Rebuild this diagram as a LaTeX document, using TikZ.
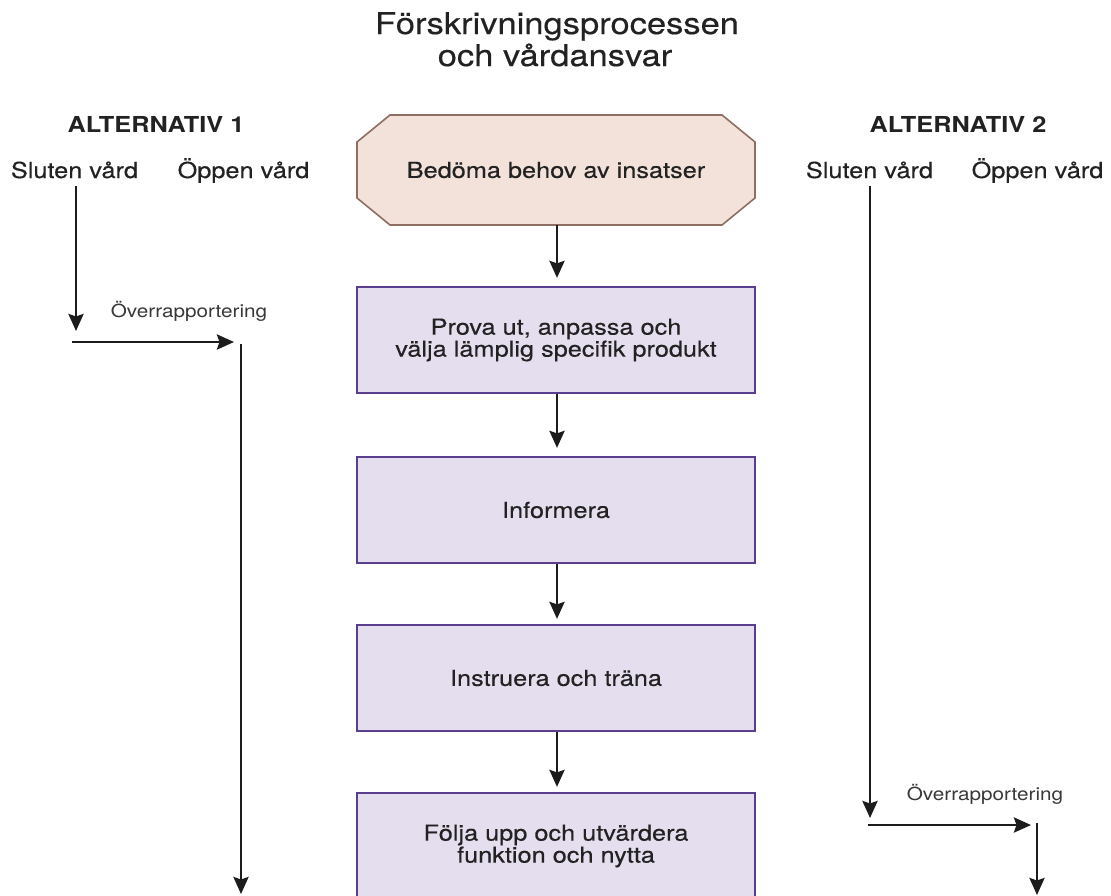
\documentclass[tikz,border=0pt]{standalone}
\usepackage{fontspec}
\setmainfont{TeX Gyre Heros}[FakeStretch=1.15]
\newfontfamily\medfont{TeX Gyre Heros}[FakeStretch=1.15, FakeBold=0.35]
\usetikzlibrary{arrows.meta,backgrounds}
\definecolor{octfill}{HTML}{F2E2D9}
\definecolor{octdraw}{HTML}{8C6E62}
\definecolor{boxfill}{HTML}{E5DEEE}
\definecolor{boxdraw}{HTML}{5B3F8F}
\definecolor{ink}{HTML}{222222}
\definecolor{lineink}{HTML}{1C1C1C}
\tikzset{
  arr/.style={line width=2.9pt, draw=lineink, -{Stealth[length=17pt,width=15pt,inset=2.5pt]}},
  flowbox/.style={rectangle, draw=boxdraw, line width=2.2pt, fill=boxfill, minimum width=398pt, minimum height=106pt, inner sep=0pt, text=ink, align=center, font=\medfont\fontsize{22}{22}\selectfont},
  headtxt/.style={anchor=base, inner sep=0pt, text=ink, font=\fontsize{22}{22}\selectfont\bfseries},
  coltxt/.style={anchor=base, inner sep=0pt, text=ink, font=\medfont\fontsize{22}{22}\selectfont},
  lbltxt/.style={anchor=base, inner sep=0pt, text=ink!90, font=\fontsize{18}{18}\selectfont},
  titletxt/.style={anchor=base, inner sep=0pt, text=ink, font=\medfont\fontsize{30}{30}\selectfont}
}
\begin{document}
\begin{tikzpicture}[x=1pt,y=-1pt]
\clip (0,0) rectangle (1111,895);
% title
\node[titletxt] (title1) at (557,34) {Förskrivningsprocessen};
\node[titletxt] (title2) at (555,66) {och vårdansvar};
% headers
\node[headtxt] (alt1) at (156,132) {ALTERNATIV 1};
\node[headtxt] (alt2) at (958,132) {ALTERNATIV 2};
\node[coltxt] (s1) at (74.5,178) {Sluten vård};
\node[coltxt] (o1) at (243.5,178) {Öppen vård};
\node[coltxt] (s2) at (869.5,178) {Sluten vård};
\node[coltxt] (o2) at (1037.5,178) {Öppen vård};
% octagon
\node[rectangle, minimum width=398pt, minimum height=110pt, inner sep=0pt, outer sep=0pt, text=ink, font=\medfont\fontsize{22}{22}\selectfont] (oct) at (556,170) {Bedöma behov av insatser};
\begin{scope}[on background layer]
\fill[white] (0,0) rectangle (1111,895);
\draw[draw=octdraw, fill=octfill, line width=1.6pt]
  ([xshift=33pt]oct.north west) -- ([xshift=-33pt]oct.north east)
  -- ([yshift=-27pt]oct.north east) -- ([yshift=27pt]oct.south east)
  -- ([xshift=-33pt]oct.south east) -- ([xshift=33pt]oct.south west)
  -- ([yshift=27pt]oct.south west) -- ([yshift=-27pt]oct.north west) -- cycle;
\end{scope}
% boxes
\node[flowbox] (b1) at (556,340) {Prova ut, anpassa och\\välja lämplig specifik produkt};
\node[flowbox] (b2) at (556,510) {Informera};
\node[flowbox] (b3) at (556,678) {Instruera och träna};
\node[flowbox] (b4) at (556,846) {Följa upp och utvärdera\\funktion och nytta};
% main arrows
\draw[arr, shorten >=8pt] (oct.south -| 557,0) -- (b1.north -| 557,0);
\draw[arr, shorten >=8pt] (b1.south -| 557,0) -- (b2.north -| 557,0);
\draw[arr, shorten >=5pt] (b2.south -| 557,0) -- (b3.north -| 557,0);
\draw[arr, shorten >=5pt] (b3.south -| 557,0) -- (b4.north -| 557,0);
% alternative 1
\coordinate (l1a) at (76,186);
\coordinate (l1b) at (76,331);
\coordinate (l2a) at (72,342);
\coordinate (l2b) at (234,342);
\coordinate (l3a) at (241,344);
\coordinate (l3b) at (241,894);
\draw[arr] (l1a) -- (l1b);
\draw[arr] (l2a) -- (l2b);
\draw[arr] (l3a) -- (l3b);
\node[lbltxt] (lbl1) at (189,317) {Överrapportering};
% alternative 2
\coordinate (r1a) at (870,186);
\coordinate (r1b) at (870,818);
\coordinate (r2a) at (868,825);
\coordinate (r2b) at (1031,825);
\coordinate (r3a) at (1037,823);
\coordinate (r3b) at (1037,895);
\draw[arr] (r1a) -- (r1b);
\draw[arr] (r2a) -- (r2b);
\draw[arr] (r3a) -- (r3b);
\node[lbltxt] (lbl2) at (985,800) {Överrapportering};
\end{tikzpicture}
\end{document}
